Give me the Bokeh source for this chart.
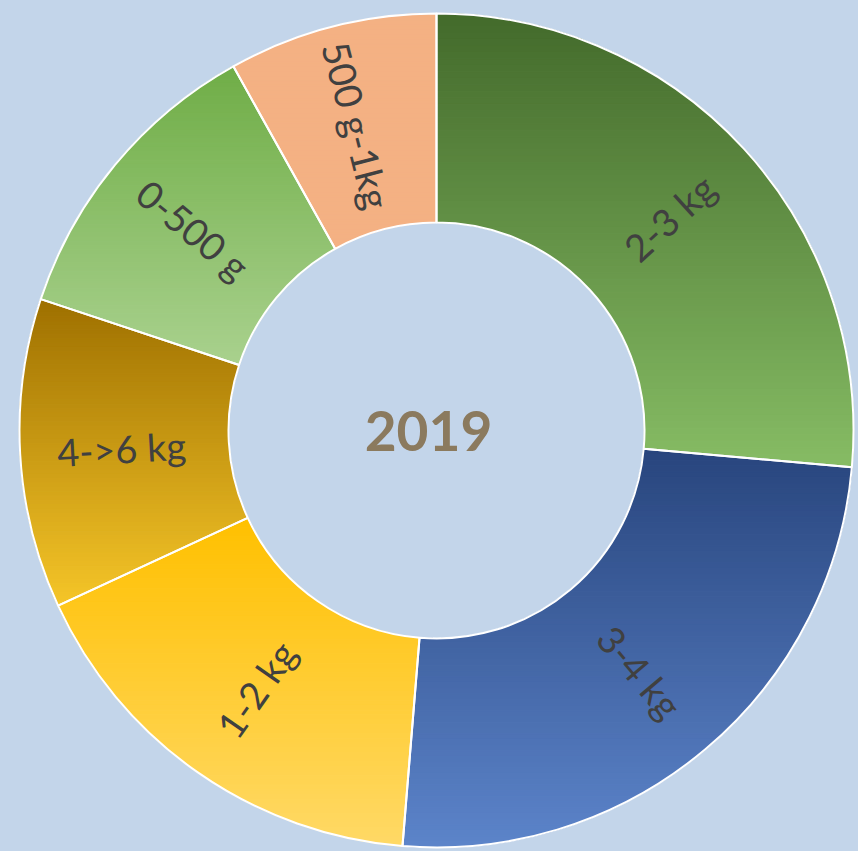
import math
from bokeh.plotting import figure
from bokeh.models import Range1d
from bokeh.core.properties import value
from bokeh.embed import file_html
from bokeh.resources import INLINE

# ---- data (clockwise from 12 o'clock) ----
categories = ["2-3 kg", "3-4 kg", "1-2 kg", "4->6 kg", "0-500 g", "500 g-1kg"]
shares = [26.4, 24.9, 16.8, 12.0, 11.8, 8.1]
top_colors = ["#436A2B", "#28457D", "#FFC000", "#9E7000", "#6FAD46", "#F4B183"]
bottom_colors = ["#86BC64", "#5C84CA", "#FFD966", "#F5C528", "#A9D18E", "#F4B183"]
center_label = "2019"

BG = "#C3D5EA"
R_OUT, R_IN = 417, 208

p = figure(width=858, height=851, output_backend="svg", toolbar_location=None,
           x_range=Range1d(-436, 422), y_range=Range1d(-421, 430),
           min_border=0, background_fill_color=BG, border_fill_color=BG)
p.axis.visible = False
p.grid.visible = False
p.outline_line_color = None


def hex2rgb(h):
    h = h.lstrip("#")
    return tuple(int(h[i:i + 2], 16) for i in (0, 2, 4))


def mix(c1, c2, t):
    a, b = hex2rgb(c1), hex2rgb(c2)
    return "#%02x%02x%02x" % tuple(int(round(a[i] + (b[i] - a[i]) * t)) for i in range(3))


def clip(poly, y0, keep_above):
    out = []
    n = len(poly)
    for i in range(n):
        cx, cy = poly[i]
        px, py = poly[i - 1]
        cin = cy >= y0 if keep_above else cy <= y0
        pin = py >= y0 if keep_above else py <= y0
        if cin:
            if not pin:
                t = (y0 - py) / (cy - py)
                out.append((px + (cx - px) * t, y0))
            out.append((cx, cy))
        elif pin:
            t = (y0 - py) / (cy - py)
            out.append((px + (cx - px) * t, y0))
    return out


total = sum(shares)
cum = 0.0
xs, ys, cols = [], [], []
wedge_start, wedge_end = [], []
lab_x, lab_y, lab_ang = [], [], []
for cat, v, ct, cb in zip(categories, shares, top_colors, bottom_colors):
    a0 = math.radians(90 - cum / total * 360)
    a1 = math.radians(90 - (cum + v) / total * 360)
    cum += v
    wedge_start.append(a0)
    wedge_end.append(a1)
    n = 120
    outer = [(R_OUT * math.cos(a0 + (a1 - a0) * k / n), R_OUT * math.sin(a0 + (a1 - a0) * k / n)) for k in range(n + 1)]
    inner = [(R_IN * math.cos(a1 + (a0 - a1) * k / n), R_IN * math.sin(a1 + (a0 - a1) * k / n)) for k in range(n + 1)]
    poly = outer + inner
    ymin = min(q[1] for q in poly)
    ymax = max(q[1] for q in poly)
    bands = 70
    for b in range(bands):
        hi = ymax - (ymax - ymin) * b / bands
        lo = ymax - (ymax - ymin) * (b + 1) / bands
        part = clip(clip(poly, lo, True), hi, False)
        if len(part) < 3:
            continue
        xs.append([q[0] for q in part])
        ys.append([q[1] for q in part])
        cols.append(mix(ct, cb, (b + 0.5) / bands))
    mid = (a0 + a1) / 2
    rl = (R_OUT + R_IN) / 2 + 3
    lab_x.append(rl * math.cos(mid))
    lab_y.append(rl * math.sin(mid))
    ang = mid
    if math.cos(ang) < 0:
        ang += math.pi
    lab_ang.append(ang)

p.patches(xs, ys, fill_color=cols, line_color=cols, line_width=1.2)
p.annular_wedge(x=0, y=0, inner_radius=R_IN, outer_radius=R_OUT,
                start_angle=wedge_start, end_angle=wedge_end, direction="clock",
                fill_alpha=0, line_color="white", line_width=2)

p.text(x=lab_x, y=lab_y, text=categories, angle=lab_ang,
       text_align="center", text_baseline="middle",
       text_font=value("Lato"), text_font_size="38px", text_color="#404040")

p.text(x=[-8], y=[0], text=[center_label], text_align="center", text_baseline="middle",
       text_font=value("Lato"), text_font_style="bold", text_font_size="55px",
       text_color="#8B7A5E")

html = file_html(p, INLINE)
html = html.replace("<head>", "<head><style>html,body{background:%s;}</style>" % BG, 1)
open("out.html", "w").write(html)
